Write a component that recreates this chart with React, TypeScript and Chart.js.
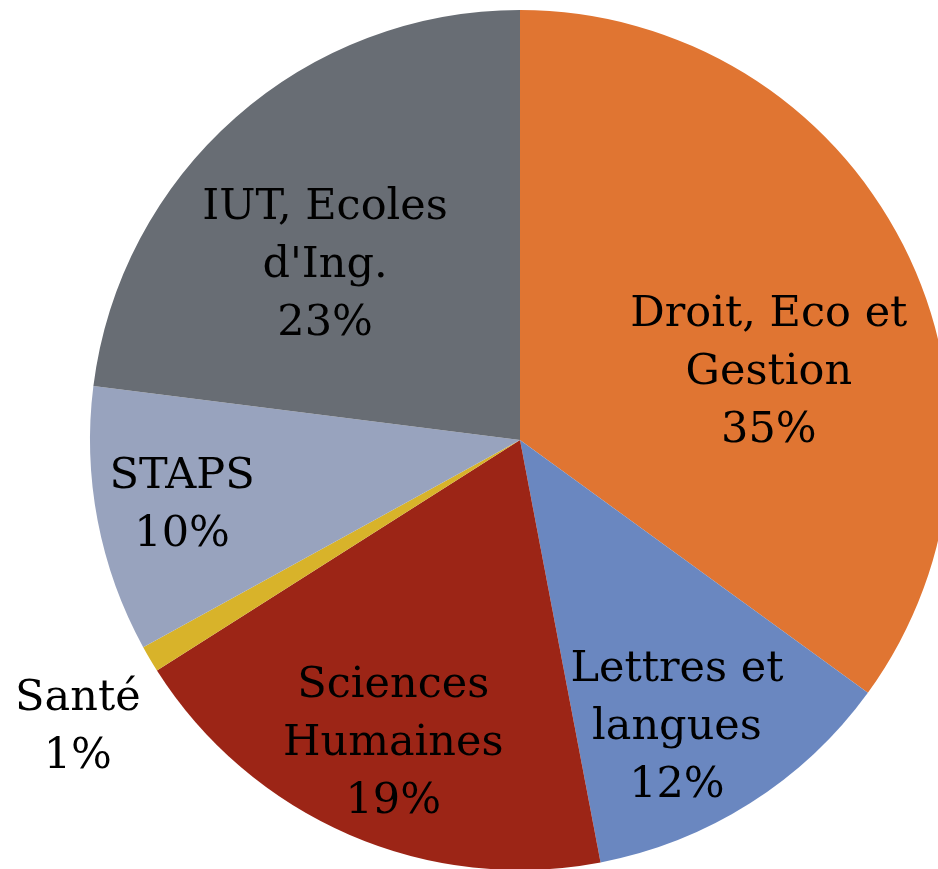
import React, { useEffect, useRef } from "react";
import { Chart, registerables } from "chart.js";

Chart.register(...registerables);

const categories = [
  "Droit, Eco et\nGestion",
  "Lettres et\nlangues",
  "Sciences\nHumaines",
  "Santé",
  "STAPS",
  "IUT, Ecoles\nd'Ing.",
];
const shares = [35, 12, 19, 1, 10, 23];
const colors = ["#E07532", "#6A87C0", "#9C2516", "#D8B32A", "#98A3BE", "#686D74"];

// label anchor relative to each arc: radius fraction and angle shift (deg)
const labelRadius = [0.6, 0.76, 0.764, 1.226, 0.8, 0.609];
const labelAngleShift = [11.7, 3.7, -0.7, -2.4, 0, -6.7];

const FONT = '43px "DejaVu Serif", serif';
const LINE_H = 58;

const labelPlugin = {
  id: "sliceLabels",
  afterDatasetsDraw(chart: any) {
    const ctx = chart.ctx;
    const meta = chart.getDatasetMeta(0);
    ctx.save();
    ctx.font = FONT;
    ctx.fillStyle = "#000";
    ctx.textAlign = "center";
    ctx.textBaseline = "middle";
    meta.data.forEach((arc: any, i: number) => {
      const { x, y, startAngle, endAngle, outerRadius } = arc.getProps(
        ["x", "y", "startAngle", "endAngle", "outerRadius"],
        true
      );
      const mid = (startAngle + endAngle) / 2 + (labelAngleShift[i] * Math.PI) / 180;
      const r = outerRadius * labelRadius[i];
      const cx = x + Math.cos(mid) * r;
      const cy = y + Math.sin(mid) * r;
      const lines = categories[i].split("\n").concat([shares[i] + "%"]);
      const top = cy - ((lines.length - 1) * LINE_H) / 2;
      lines.forEach((ln, k) => ctx.fillText(ln, cx, top + k * LINE_H + 1));
    });
    ctx.restore();
  },
};

export default function App() {
  const ref = useRef<HTMLCanvasElement | null>(null);
  useEffect(() => {
    document.body.style.margin = "0";
    const chart = new Chart(ref.current!, {
      type: "pie",
      data: {
        labels: categories,
        datasets: [
          {
            data: shares,
            backgroundColor: colors,
            borderWidth: 0,
          },
        ],
      },
      options: {
        responsive: false,
        animation: false,
        devicePixelRatio: 1,
        layout: { padding: 10 },
        plugins: { legend: { display: false }, tooltip: { enabled: false } },
      },
      plugins: [labelPlugin],
    });
    return () => chart.destroy();
  }, []);
  return (
    <div
      style={{
        position: "fixed",
        left: 0,
        top: 0,
        width: 938,
        height: 869,
        overflow: "hidden",
        background: "#fff",
      }}
    >
      <canvas ref={ref} width={1040} height={880} style={{ display: "block" }} />
    </div>
  );
}
